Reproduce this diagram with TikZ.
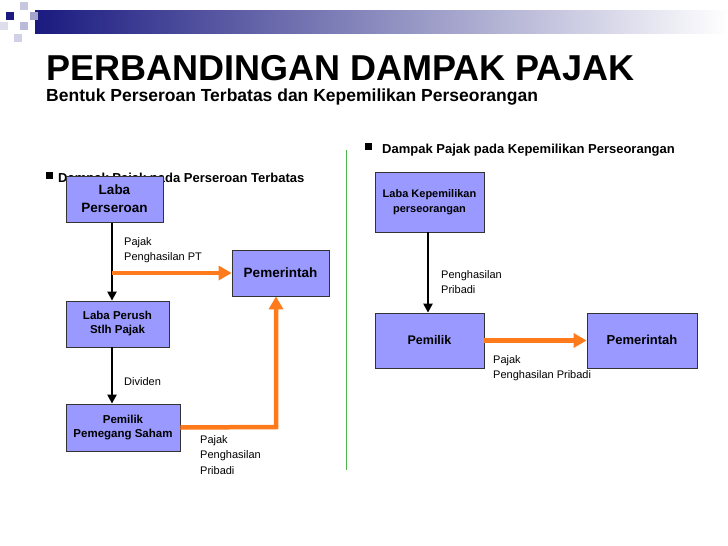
\documentclass[tikz,border=0pt]{standalone}
\usepackage{fontspec}
\setmainfont{Liberation Sans}
\usetikzlibrary{arrows.meta}
\definecolor{boxfill}{HTML}{9999FF}
\definecolor{org}{HTML}{FF7A1A}
\definecolor{navy}{HTML}{1A1A80}
\begin{document}
\begin{tikzpicture}[x=1pt,y=-1pt,
  bx/.style={draw=black!80,line width=0.8pt,fill=boxfill,align=center,font=\bfseries\fontsize{11.5}{14}\selectfont,inner sep=0pt},
  lbl/.style={anchor=west,align=left,font=\fontsize{11}{15.5}\selectfont,inner sep=0pt},
  blk/.style={-{Triangle[length=9pt,width=9pt]},line width=2.6pt,black},
  orng/.style={-{Triangle[length=13pt,width=14pt]},line width=4.5pt,org}]
\useasboundingbox[fill=white] (0,0) rectangle (728,546);
% header band
\shade[left color=navy,right color=white] (35,10) rectangle (728,33);
\fill[navy] (6,12) rectangle (14,20);
\fill[navy!40] (30,12) rectangle (38,20);
\fill[navy!25] (20,2) rectangle (28,10);
\fill[navy!30] (20,22) rectangle (28,30);
\fill[navy!20] (14,34) rectangle (22,42);
\fill[navy!15] (0,22) rectangle (8,30);
% titles
\node[anchor=base west,inner sep=0pt,font=\bfseries\fontsize{36}{40}\selectfont] (t) at (46,80) {PERBANDINGAN DAMPAK PAJAK};
\node[anchor=base west,inner sep=0pt,font=\bfseries\fontsize{17.5}{20}\selectfont] (st) at (46,101) {Bentuk Perseroan Terbatas dan Kepemilikan Perseorangan};
% bullets
\fill (46,172) rectangle (53,179);
\node[anchor=base west,inner sep=0pt,font=\bfseries\fontsize{13}{15}\selectfont] (b1) at (58,182) {Dampak Pajak pada Perseroan Terbatas};
\fill (365,143) rectangle (372,150);
\node[anchor=base west,inner sep=0pt,font=\bfseries\fontsize{13}{15}\selectfont] (b2) at (382,153) {Dampak Pajak pada Kepemilikan Perseorangan};
% divider
\draw[green!60!black!70,line width=1pt] (346,150) -- (346,470);
% left boxes
\node[bx,minimum width=97pt,minimum height=46pt,font=\bfseries\fontsize{13.5}{18}\selectfont] (lp) at (114.5,199) {Laba\\Perseroan};
\node[bx,minimum width=97pt,minimum height=46pt,font=\bfseries\fontsize{13.5}{16}\selectfont] (pm1) at (280.5,273) {Pemerintah};
\node[bx,minimum width=103pt,minimum height=46pt] (lps) at (117.5,324) {Laba Perush\\Stlh Pajak};
\node[bx,minimum width=114pt,minimum height=47pt] (pps) at (123,427.5) {Pemilik\\Pemegang Saham};
% right boxes
\node[bx,minimum width=109pt,minimum height=60pt,font=\bfseries\fontsize{11}{15}\selectfont] (lk) at (429.5,202) {Laba Kepemilikan\\perseorangan};
\node[bx,minimum width=109pt,minimum height=55pt,font=\bfseries\fontsize{12.5}{15}\selectfont] (pr) at (429.5,340.5) {Pemilik};
\node[bx,minimum width=110pt,minimum height=55pt] (pm2) at (642,340.5) {};
\node[font=\bfseries\fontsize{13}{15}\selectfont,inner sep=0pt] (pm2t) at (642,340) {Pemerintah};
% left connectors
\draw[blk] (lp.south -| 112,0) -- (lps.north -| 112,0);
\coordinate (jn) at (112,273);
\draw[orng] (jn) -- (pm1.west);
\draw[blk] (lps.south -| 112,0) -- (pps.north -| 112,0);
\draw[orng] (pps.east) -- (276,427) -- (pm1.south -| 276,0);
% right connectors
\draw[blk] (lk.south -| 428,0) -- (pr.north -| 428,0);
\draw[orng] (pr.east) -- (pm2.west);
% labels
\node[lbl] (l1) at (124,250) {Pajak\\Penghasilan PT};
\node[lbl] (l2) at (124,382) {Dividen};
\node[lbl] (l3) at (200,455) {Pajak\\Penghasilan\\Pribadi};
\node[lbl] (l4) at (441,282) {Penghasilan\\Pribadi};
\node[lbl] (l5) at (493,368) {Pajak\\Penghasilan Pribadi};
% redraw top box over bullet text
\node[bx,minimum width=97pt,minimum height=46pt,font=\bfseries\fontsize{13.5}{18}\selectfont] (lp2) at (114.5,199) {Laba\\Perseroan};
\end{tikzpicture}
\end{document}
